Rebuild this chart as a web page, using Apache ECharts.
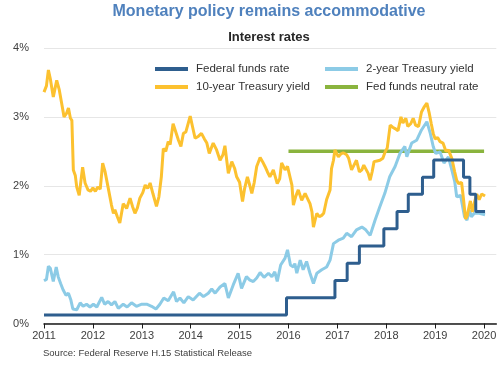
<!DOCTYPE html>
<html>
<head>
<meta charset="utf-8">
<script src="https://cdn.jsdelivr.net/npm/echarts@6/dist/echarts.min.js"></script>
<style>html,body{margin:0;padding:0;background:#fff}#c{width:500px;height:365px}</style>
</head>
<body>
<div id="c"></div>
<script>
// ---- data ----
const xTicks = [2011, 2012, 2013, 2014, 2015, 2016, 2017, 2018, 2019, 2020];
const yTicks = [0, 1, 2, 3, 4];

const ffDates = [2011.00, 2015.96, 2016.95, 2017.20, 2017.45, 2017.95, 2018.22, 2018.45, 2018.74, 2018.97, 2019.58, 2019.71, 2019.83, 2020.02];
const ffRates = [0.125, 0.375, 0.625, 0.875, 1.125, 1.375, 1.625, 1.875, 2.125, 2.375, 2.125, 1.875, 1.625, 1.625];

const neutralDates = [2016.00, 2020.00];
const neutralRates = [2.5, 2.5];

const t10Dates = [2011.00,2011.05,2011.09,2011.13,2011.19,2011.26,2011.31,2011.36,2011.41,2011.46,2011.50,2011.54,2011.57,2011.60,2011.64,2011.67,2011.72,2011.76,2011.79,2011.84,2011.90,2011.95,2012.00,2012.05,2012.10,2012.15,2012.20,2012.25,2012.31,2012.38,2012.42,2012.45,2012.50,2012.55,2012.62,2012.69,2012.76,2012.81,2012.86,2012.91,2012.96,2013.02,2013.07,2013.12,2013.17,2013.23,2013.30,2013.35,2013.40,2013.44,2013.49,2013.54,2013.58,2013.64,2013.68,2013.75,2013.80,2013.85,2013.90,2013.99,2014.04,2014.09,2014.16,2014.22,2014.28,2014.33,2014.38,2014.46,2014.53,2014.60,2014.66,2014.70,2014.77,2014.84,2014.90,2014.94,2015.00,2015.06,2015.10,2015.16,2015.21,2015.25,2015.30,2015.35,2015.42,2015.47,2015.52,2015.57,2015.62,2015.69,2015.77,2015.82,2015.86,2015.93,2015.98,2016.04,2016.07,2016.10,2016.15,2016.20,2016.27,2016.34,2016.40,2016.44,2016.48,2016.51,2016.55,2016.58,2016.63,2016.68,2016.72,2016.78,2016.85,2016.88,2016.92,2016.95,2017.02,2017.07,2017.12,2017.19,2017.23,2017.29,2017.34,2017.39,2017.45,2017.50,2017.54,2017.58,2017.63,2017.67,2017.71,2017.75,2017.81,2017.87,2017.93,2017.97,2018.02,2018.08,2018.13,2018.18,2018.24,2018.30,2018.34,2018.40,2018.44,2018.50,2018.55,2018.60,2018.66,2018.72,2018.78,2018.83,2018.88,2018.92,2018.96,2019.00,2019.05,2019.10,2019.16,2019.22,2019.27,2019.34,2019.40,2019.44,2019.48,2019.54,2019.58,2019.62,2019.65,2019.68,2019.72,2019.76,2019.80,2019.85,2019.90,2019.95,2020.02];
const t10Yields = [3.36,3.45,3.68,3.55,3.29,3.53,3.40,3.20,3.00,3.05,3.13,2.98,2.95,2.23,2.15,1.98,1.86,2.10,2.27,2.04,1.94,1.92,1.97,1.92,1.98,1.95,2.33,2.20,1.98,1.72,1.60,1.65,1.55,1.46,1.74,1.67,1.82,1.70,1.60,1.68,1.82,1.90,2.01,1.96,2.04,1.88,1.70,1.84,2.13,2.54,2.50,2.64,2.60,2.90,2.92,2.66,2.57,2.76,2.78,3.01,2.85,2.69,2.72,2.76,2.68,2.62,2.47,2.62,2.52,2.37,2.45,2.58,2.18,2.35,2.25,2.13,2.05,1.77,1.95,2.13,2.00,1.89,2.05,2.28,2.41,2.35,2.28,2.20,2.13,2.23,2.03,2.10,2.33,2.23,2.28,2.10,2.01,1.72,1.85,1.94,1.79,1.89,1.80,1.74,1.62,1.40,1.52,1.60,1.55,1.57,1.60,1.80,1.94,2.25,2.37,2.52,2.42,2.46,2.48,2.45,2.40,2.23,2.30,2.37,2.20,2.23,2.30,2.30,2.18,2.08,2.20,2.35,2.36,2.37,2.40,2.48,2.55,2.88,2.85,2.83,2.80,3.00,2.91,2.98,2.86,2.90,2.98,2.88,2.86,3.07,3.15,3.20,3.05,2.90,2.76,2.68,2.70,2.64,2.62,2.50,2.52,2.40,2.20,2.08,2.03,2.05,1.80,1.52,1.55,1.65,1.78,1.62,1.75,1.88,1.80,1.88,1.85];

const t2Dates = [2011.00,2011.05,2011.09,2011.13,2011.19,2011.25,2011.29,2011.34,2011.39,2011.45,2011.50,2011.55,2011.59,2011.67,2011.74,2011.80,2011.87,2011.94,2012.01,2012.08,2012.18,2012.24,2012.31,2012.38,2012.45,2012.52,2012.62,2012.70,2012.79,2012.89,2013.00,2013.10,2013.20,2013.29,2013.37,2013.45,2013.54,2013.65,2013.71,2013.78,2013.86,2013.95,2014.05,2014.18,2014.26,2014.36,2014.43,2014.50,2014.60,2014.70,2014.77,2014.87,2014.97,2015.04,2015.14,2015.21,2015.28,2015.35,2015.42,2015.50,2015.59,2015.66,2015.72,2015.77,2015.84,2015.93,2015.98,2016.04,2016.10,2016.13,2016.17,2016.24,2016.30,2016.37,2016.44,2016.51,2016.58,2016.68,2016.78,2016.85,2016.92,2017.02,2017.12,2017.19,2017.29,2017.39,2017.50,2017.58,2017.67,2017.77,2017.87,2017.97,2018.07,2018.18,2018.28,2018.38,2018.42,2018.52,2018.62,2018.72,2018.83,2018.90,2018.96,2019.01,2019.10,2019.18,2019.27,2019.34,2019.40,2019.44,2019.52,2019.60,2019.65,2019.70,2019.74,2019.80,2019.90,2020.02];
const t2Yields = [0.62,0.64,0.83,0.80,0.61,0.82,0.68,0.58,0.49,0.41,0.44,0.34,0.21,0.20,0.30,0.25,0.28,0.24,0.28,0.24,0.38,0.28,0.32,0.27,0.32,0.22,0.28,0.24,0.30,0.25,0.28,0.28,0.25,0.21,0.28,0.37,0.33,0.46,0.32,0.37,0.30,0.39,0.34,0.44,0.39,0.44,0.50,0.44,0.53,0.58,0.37,0.56,0.73,0.51,0.68,0.63,0.61,0.66,0.74,0.67,0.73,0.68,0.75,0.61,0.85,0.95,1.07,0.85,0.82,0.87,0.73,0.92,0.78,0.90,0.73,0.58,0.73,0.78,0.82,0.92,1.16,1.21,1.24,1.31,1.26,1.36,1.40,1.36,1.28,1.50,1.70,1.89,2.13,2.28,2.47,2.57,2.42,2.62,2.66,2.81,2.93,2.76,2.57,2.47,2.49,2.33,2.42,2.23,2.06,1.84,1.86,1.55,1.50,1.65,1.55,1.60,1.60,1.58];

const zip = (a, b) => a.map((v, i) => [v, b[i]]);

const C_FF = '#2e5e8e', C_2Y = '#8ccbe6', C_10Y = '#fcc12f', C_N = '#8ab43e';

const chart = echarts.init(document.getElementById('c'));
const legendBase = {
  orient: 'horizontal', icon: 'rect', itemWidth: 33, itemHeight: 4, padding: 0,
  textStyle: { fontSize: 11.5, color: '#333', fontFamily: 'Liberation Sans, Arial', padding: [0, 0, 0, 3] }
};
chart.setOption({
  animation: false,
  backgroundColor: '#fff',
  textStyle: { fontFamily: 'Liberation Sans, Arial' },
  graphic: [
    { type: 'text', x: 269, y: 12, style: { text: 'Monetary policy remains accommodative', fill: '#4f81bd', font: 'bold 16px "Liberation Sans", Arial', textAlign: 'center', textVerticalAlign: 'middle' } },
    { type: 'text', x: 269, y: 37, style: { text: 'Interest rates', fill: '#262626', font: 'bold 13px "Liberation Sans", Arial', textAlign: 'center', textVerticalAlign: 'middle' } },
    { type: 'text', x: 43, y: 353, style: { text: 'Source: Federal Reserve H.15 Statistical Release', fill: '#404040', font: '9.5px "Liberation Sans", Arial', textAlign: 'left', textVerticalAlign: 'middle' } }
  ],
  legend: [
    Object.assign({}, legendBase, { data: ['Federal funds rate'], left: 155, top: 63 }),
    Object.assign({}, legendBase, { data: ['2-year Treasury yield'], left: 325, top: 63 }),
    Object.assign({}, legendBase, { data: ['10-year Treasury yield'], left: 155, top: 81 }),
    Object.assign({}, legendBase, { data: ['Fed funds neutral rate'], left: 325, top: 81 })
  ],
  grid: { left: 44, right: 3.7, top: 48, bottom: 41.5, containLabel: false },
  xAxis: {
    type: 'value', min: xTicks[0], max: 2020.25, interval: 1,
    axisLine: { show: true, lineStyle: { color: '#1a1a1a', width: 1.5 } },
    axisTick: { show: true, length: 5, lineStyle: { color: '#1a1a1a', width: 1 } },
    axisLabel: { showMaxLabel: false, margin: 7, fontSize: 11, color: '#404040',
      formatter: v => (xTicks.indexOf(Math.round(v)) >= 0 && Math.abs(v - Math.round(v)) < 1e-6) ? String(Math.round(v)) : '' },
    splitLine: { show: false }
  },
  yAxis: {
    type: 'value', min: yTicks[0], max: yTicks[yTicks.length - 1], interval: 1,
    axisLine: { show: false }, axisTick: { show: false },
    axisLabel: { formatter: '{value}%', fontSize: 11, color: '#404040', margin: 15 },
    splitLine: { lineStyle: { color: '#e6e6e6', width: 1 } }
  },
  series: [
    { name: 'Fed funds neutral rate', type: 'line', data: zip(neutralDates, neutralRates), showSymbol: false, symbol: 'none',
      lineStyle: { color: C_N, width: 3.5 }, itemStyle: { color: C_N } },
    { name: '2-year Treasury yield', type: 'line', data: zip(t2Dates, t2Yields), showSymbol: false, symbol: 'none',
      lineStyle: { color: C_2Y, width: 3 }, itemStyle: { color: C_2Y } },
    { name: '10-year Treasury yield', type: 'line', data: zip(t10Dates, t10Yields), showSymbol: false, symbol: 'none',
      lineStyle: { color: C_10Y, width: 3 }, itemStyle: { color: C_10Y } },
    { name: 'Federal funds rate', type: 'line', step: 'end', data: zip(ffDates, ffRates), showSymbol: false, symbol: 'none',
      lineStyle: { color: C_FF, width: 3 }, itemStyle: { color: C_FF } }
  ]
});
</script>
</body>
</html>
